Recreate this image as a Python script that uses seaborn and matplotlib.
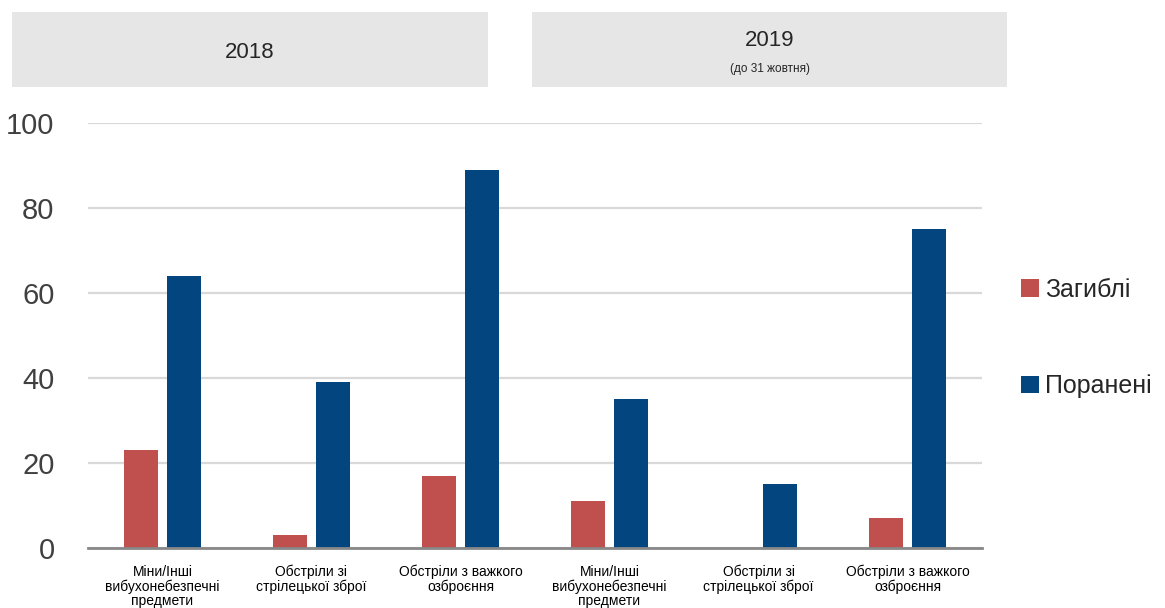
import seaborn as sns
import matplotlib.pyplot as plt
import matplotlib.patches as mpatches
import pandas as pd

# Дані
years = ['2018', '2018', '2018', '2019', '2019', '2019']
categories = ['Міни/Інші\nвибухонебезпечні\nпредмети',
              'Обстріли зі\nстрілецької зброї',
              'Обстріли з важкого\nозброєння',
              'Міни/Інші\nвибухонебезпечні\nпредмети',
              'Обстріли зі\nстрілецької зброї',
              'Обстріли з важкого\nозброєння']
killed = [23, 3, 17, 11, 0, 7]
injured = [64, 39, 89, 35, 15, 75]
series = ['Загиблі', 'Поранені']
colors = ['#C0504D', '#03457F']

keys = [f'{y}|{c}' for y, c in zip(years, categories)]
df = pd.DataFrame({
    'key': keys * 2,
    'series': [series[0]] * 6 + [series[1]] * 6,
    'value': killed + injured,
})

sns.set_theme(style='white')
plt.rcParams['font.family'] = ['Liberation Sans', 'DejaVu Sans']

fig = plt.figure(figsize=(11.65, 6.08), dpi=100)
ax = fig.add_axes([0.0755, 0.0987, 0.7675, 0.699])

sns.barplot(data=df, x='key', y='value', hue='series', order=keys,
            palette=colors, width=0.58, gap=0.2, saturation=1,
            edgecolor='none', ax=ax)

ax.set_ylim(0, 100)
ax.set_yticks([0, 20, 40, 60, 80, 100])
ax.set_xlim(-0.5, 5.5)
ax.set_xticks(range(6))
ax.set_xticklabels(categories, fontsize=10, color='black', linespacing=1.05)
ax.tick_params(axis='y', labelsize=21, colors='#404040', length=0, pad=24)
ax.tick_params(axis='x', length=0, pad=12)
ax.set_xlabel('')
ax.set_ylabel('')
ax.yaxis.grid(True, color='#D9D9D9', linewidth=1.6)
ax.set_axisbelow(True)
for s in ['left', 'right', 'top']:
    ax.spines[s].set_visible(False)
ax.spines['bottom'].set_color('#888888')
ax.spines['bottom'].set_linewidth(2)

# Легенда
ax.legend(loc='center left', bbox_to_anchor=(0.876, 0.444),
          bbox_transform=fig.transFigure, frameon=False, fontsize=18,
          handlelength=0.72, handleheight=0.72, handletextpad=0.25,
          labelspacing=2.9, borderpad=0, borderaxespad=0)

# Заголовки років
W, H = 1165, 608
for x0, x1 in [(12, 488), (532, 1007)]:
    fig.patches.append(mpatches.Rectangle(
        (x0 / W, 1 - 87 / H), (x1 - x0) / W, 75 / H,
        transform=fig.transFigure, facecolor='#E6E6E6', edgecolor='none'))
fig.text(250 / W, 1 - 52 / H, '2018', ha='center', va='center', fontsize=16)
fig.text(770 / W, 1 - 41 / H, '2019', ha='center', va='center', fontsize=16)
fig.text(770 / W, 1 - 69 / H, '(до 31 жовтня)', ha='center', va='center', fontsize=8.5)

plt.savefig('out.png', dpi=100)
